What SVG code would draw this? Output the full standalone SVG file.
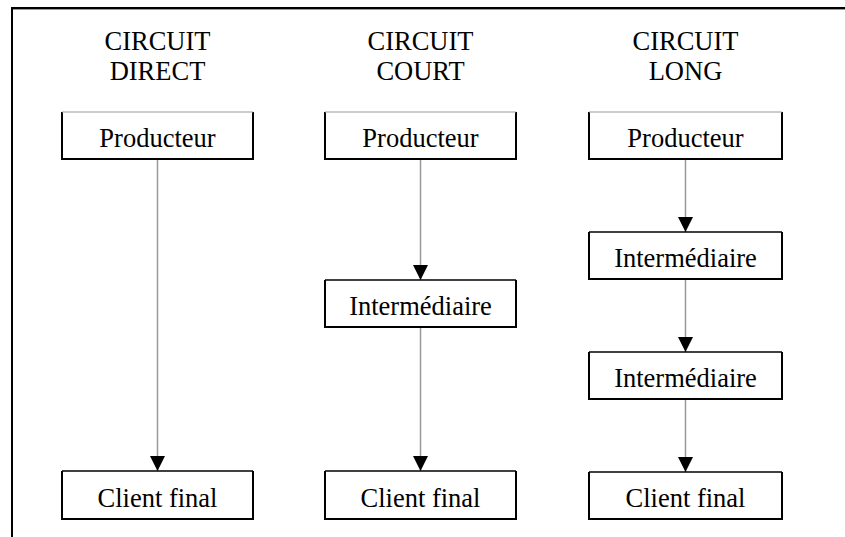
<svg xmlns="http://www.w3.org/2000/svg" width="845" height="537" viewBox="0 0 845 537">
<defs>
<style>
.t{font-family:"Liberation Serif","Times New Roman",serif;font-size:26.5px;fill:#000;text-anchor:middle}
.side{fill:none;stroke:#000;stroke-width:2}
.top{stroke:#999;stroke-width:1.2}
.topk{stroke:#000;stroke-width:1.5}
.c{stroke:#999;stroke-width:1.5;fill:none}
</style>
<marker id="ah" markerWidth="15" markerHeight="15" refX="15" refY="7.5" orient="auto" markerUnits="userSpaceOnUse" viewBox="0 0 15 15">
<path d="M0,0 L15,7.5 L0,15 Z" fill="#000"/>
</marker>
</defs>
<rect width="845" height="537" fill="#fff"/>
<g id="frame">
<line x1="12" y1="8" x2="845" y2="8" stroke="#000" stroke-width="2"/>
<line x1="12" y1="9.5" x2="845" y2="9.5" stroke="#999" stroke-width="1"/>
<line x1="12" y1="7" x2="12" y2="537" stroke="#000" stroke-width="2"/>
</g>
<g id="titles">
<text class="t" x="157.5" y="50">CIRCUIT</text>
<text class="t" x="157.5" y="80">DIRECT</text>
<text class="t" x="420.5" y="50">CIRCUIT</text>
<text class="t" x="420.5" y="80">COURT</text>
<text class="t" x="685.5" y="50">CIRCUIT</text>
<text class="t" x="685.5" y="80">LONG</text>
</g>
<g id="connectors">
<line class="c" x1="157.5" y1="159" x2="157.5" y2="471" marker-end="url(#ah)"/>
<line class="c" x1="420.5" y1="159" x2="420.5" y2="280" marker-end="url(#ah)"/>
<line class="c" x1="420.5" y1="327" x2="420.5" y2="471" marker-end="url(#ah)"/>
<line class="c" x1="685.5" y1="159" x2="685.5" y2="232" marker-end="url(#ah)"/>
<line class="c" x1="685.5" y1="279" x2="685.5" y2="352" marker-end="url(#ah)"/>
<line class="c" x1="685.5" y1="399" x2="685.5" y2="472" marker-end="url(#ah)"/>
</g>
<g id="n1">
<path class="side" d="M62,112 V159 H253 V112"/><line class="top" x1="62" y1="112" x2="253" y2="112"/>
<text class="t" x="157.5" y="147">Producteur</text>
</g>
<g id="n2">
<path class="side" d="M62,471 V519 H253 V471"/><line class="topk" x1="62" y1="471" x2="253" y2="471"/>
<text class="t" x="157.5" y="507">Client final</text>
</g>
<g id="n3">
<path class="side" d="M325,112 V159 H516 V112"/><line class="top" x1="325" y1="112" x2="516" y2="112"/>
<text class="t" x="420.5" y="147">Producteur</text>
</g>
<g id="n4">
<path class="side" d="M325,280 V327 H516 V280"/><line class="topk" x1="325" y1="280" x2="516" y2="280"/>
<text class="t" x="420.5" y="315">Intermédiaire</text>
</g>
<g id="n5">
<path class="side" d="M325,471 V519 H516 V471"/><line class="topk" x1="325" y1="471" x2="516" y2="471"/>
<text class="t" x="420.5" y="507">Client final</text>
</g>
<g id="n6">
<path class="side" d="M589,112 V159 H782 V112"/><line class="top" x1="589" y1="112" x2="782" y2="112"/>
<text class="t" x="685.5" y="147">Producteur</text>
</g>
<g id="n7">
<path class="side" d="M589,232 V279 H782 V232"/><line class="topk" x1="589" y1="232" x2="782" y2="232"/>
<text class="t" x="685.5" y="267">Intermédiaire</text>
</g>
<g id="n8">
<path class="side" d="M589,352 V399 H782 V352"/><line class="topk" x1="589" y1="352" x2="782" y2="352"/>
<text class="t" x="685.5" y="387">Intermédiaire</text>
</g>
<g id="n9">
<path class="side" d="M589,472 V519 H782 V472"/><line class="topk" x1="589" y1="472" x2="782" y2="472"/>
<text class="t" x="685.5" y="507">Client final</text>
</g>
</svg>
